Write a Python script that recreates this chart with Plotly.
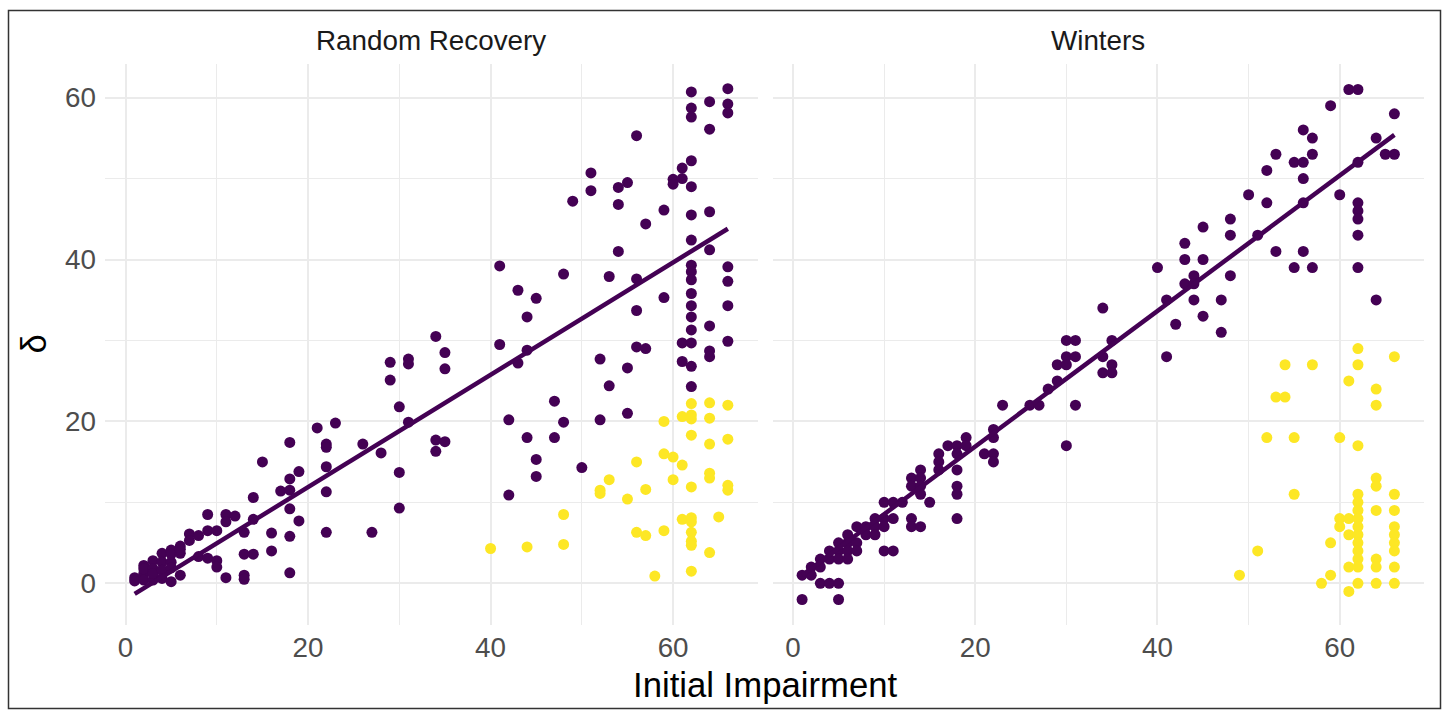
import plotly.graph_objects as go

# ---------------- data ----------------
# Random Recovery panel, purple group
rr_purple_x = [
    1, 1,
    2, 2, 2, 2,
    3, 3, 3, 3,
    4, 4, 4, 4,
    5, 5, 5, 5, 5,
    6, 6, 6, 6,
    7, 7,
    8, 8,
    9, 9, 9,
    10, 10, 10,
    11, 11, 11,
    12,
    13, 13, 13, 13,
    14, 14, 14,
    15,
    16, 16,
    17,
    18, 18, 18, 18, 18, 18,
    19, 19,
    21,
    22, 22, 22, 22, 22,
    23, 26, 27, 28,
    29, 29,
    30, 30, 30,
    31, 31, 31,
    34, 34, 34,
    35, 35, 35,
    41, 41,
    42, 42,
    43, 43,
    44, 44, 44,
    45, 45, 45,
    47, 47,
    48, 48,
    49, 50,
    51, 51,
    52, 52,
    53, 53,
    54, 54, 54,
    55, 55, 55,
    56, 56, 56, 56,
    57, 57,
    59, 59,
    60, 60,
    61, 61, 61, 61,
    62, 62, 62, 62, 62, 62, 62, 62, 62, 62, 62, 62, 62, 62, 62, 62, 62,
    64, 64, 64, 64, 64, 64, 64,
    66, 66, 66, 66, 66, 66, 66,
]
rr_purple_y = [
    0.7, 0.3,
    2.2, 1.2, 0.4, 1.8,
    2.8, 1.8, 0.4, 1.2,
    3.7, 2.6, 1.6, 0.6,
    4.1, 2.6, 1.9, 0.2, 3.6,
    4.6, 3.7, 1.0, 4.2,
    6.1, 5.3,
    5.9, 3.3,
    8.5, 6.5, 3.1,
    6.5, 2.8, 2.0,
    8.5, 7.6, 0.7,
    8.3,
    6.3, 3.6, 1.0, 0.5,
    10.6, 7.9, 3.6,
    15.0,
    6.2, 4.0,
    11.4,
    17.4, 12.9, 11.5, 9.2, 5.8, 1.3,
    13.8, 7.7,
    19.2,
    17.2, 16.8, 14.4, 11.3, 6.3,
    19.8, 17.2, 6.3, 16.1,
    27.3, 25.1,
    21.8, 13.7, 9.3,
    27.7, 27.1, 19.9,
    30.5, 17.7, 16.3,
    28.5, 26.5, 17.5,
    39.2, 29.5,
    20.2, 10.9,
    36.2, 27.2,
    32.9, 28.8, 18.0,
    35.2, 15.3, 13.2,
    22.5, 18.0,
    38.2, 19.9,
    47.2, 14.3,
    50.7, 48.5,
    27.7, 20.2,
    37.9, 24.4,
    48.9, 46.8, 41.0,
    49.5, 26.6, 21.0,
    55.3, 37.6, 33.7, 29.2,
    44.4, 29.0,
    46.1, 35.3,
    49.9, 49.3,
    51.3, 50.0, 29.7, 27.4,
    60.7, 58.7, 57.6, 52.2, 49.0, 45.5, 42.4, 39.3, 38.5, 37.5, 35.8, 34.3, 32.9, 31.3, 29.7, 26.8, 24.3,
    59.5, 56.1, 45.9, 41.2, 31.8, 28.7, 28.0,
    61.1, 59.2, 58.1, 39.1, 37.3, 34.3, 29.9,
]

# Random Recovery panel, yellow group
rr_yellow_x = [
    40, 44,
    48, 48,
    52, 52,
    53, 55,
    56, 56,
    57, 57,
    58,
    59, 59, 59,
    60, 60,
    61, 61, 61,
    62, 62, 62, 62, 62, 62, 62, 62, 62, 62, 62,
    64, 64, 64, 64, 64, 64,
    65,
    66, 66, 66, 66,
]
rr_yellow_y = [
    4.3, 4.5,
    8.5, 4.8,
    11.5, 11.1,
    12.8, 10.4,
    15.0, 6.3,
    11.6, 5.9,
    0.9,
    20.0, 16.0, 6.5,
    15.6, 12.8,
    20.6, 14.6, 7.9,
    22.2, 20.8, 20.3, 18.3, 11.9, 8.1, 7.6, 6.3, 5.2, 4.7, 1.5,
    22.3, 20.4, 17.2, 13.6, 13.0, 3.8,
    8.2,
    22.0, 17.8, 12.1, 11.5,
]

# Winters panel, purple group
win_purple_x = [
    1, 1,
    2, 2,
    3, 3, 3,
    4, 4, 4,
    5, 5, 5, 5, 5,
    6, 6, 6, 6,
    7, 7, 7,
    8, 8,
    9, 9, 9,
    10, 10, 10, 10,
    11, 11, 11,
    12,
    13, 13, 13, 13,
    14, 14, 14, 14, 14,
    15,
    16, 16, 16,
    17,
    18, 18, 18, 18, 18, 18,
    19, 19,
    21,
    22, 22, 22, 22,
    23, 26, 27, 28,
    29, 29,
    30, 30, 30, 30,
    31, 31, 31,
    34, 34, 34,
    35, 35, 35,
    40,
    41, 41,
    42,
    43, 43, 43,
    44, 44, 44,
    45, 45, 45,
    47, 47,
    48, 48, 48,
    50, 51,
    52, 52,
    53, 53,
    55, 55,
    56, 56, 56, 56, 56,
    57, 57, 57,
    59, 60, 61,
    62, 62, 62, 62, 62, 62, 62,
    64, 64,
    65,
    66, 66,
]
win_purple_y = [
    1, -2,
    2, 1,
    3, 2, 0,
    4, 3, 0,
    5, 4, 3, 0, -2,
    6, 5, 4, 3,
    7, 5, 4,
    7, 6,
    8, 7, 6,
    10, 8, 7, 4,
    10, 8, 4,
    10,
    13, 12, 8, 7,
    14, 13, 12, 11, 7,
    10,
    16, 15, 14,
    17,
    17, 16, 14, 12, 11, 8,
    18, 17,
    16,
    19, 18, 16, 15,
    22, 22, 22, 24,
    27, 25,
    30, 28, 27, 17,
    30, 28, 22,
    34, 28, 26,
    30, 27, 26,
    39,
    35, 28,
    32,
    42, 40, 37,
    38, 37, 35,
    44, 40, 33,
    35, 31,
    45, 43, 38,
    48, 43,
    51, 47,
    53, 41,
    52, 39,
    56, 52, 50, 47, 41,
    55, 53, 39,
    59, 48, 61,
    61, 52, 47, 46, 45, 43, 39,
    55, 35,
    53,
    58, 53,
]

# Winters panel, yellow group
win_yellow_x = [
    49, 51, 52, 53,
    54, 54,
    55, 55,
    57, 58,
    59, 59,
    60, 60, 60,
    61, 61, 61, 61, 61,
    62, 62, 62, 62, 62, 62, 62, 62, 62, 62, 62, 62, 62, 62,
    64, 64, 64, 64, 64, 64, 64, 64,
    66, 66, 66, 66, 66, 66, 66, 66, 66,
]
win_yellow_y = [
    1, 4, 18, 23,
    27, 23,
    18, 11,
    27, 0,
    5, 1,
    18, 8, 7,
    25, 8, 6, 2, -1,
    29, 27, 17, 11, 10, 9, 8, 7, 6, 5, 4, 3, 2, 0,
    24, 22, 13, 12, 9, 3, 2, 0,
    28, 11, 9, 7, 6, 5, 4, 2, 0,
]

# linear fits (purple group)
rr_fit_x = [1, 66]
rr_fit_y = [-1.3, 43.8]
win_fit_x = [1, 66]
win_fit_y = [1.0, 55.4]

panel_titles = ["Random Recovery", "Winters"]
x_title = "Initial Impairment"
y_title = "δ"
major_ticks = [0, 20, 40, 60]
minor_ticks = [10, 30, 50]

# ---------------- styling ----------------
PURPLE = "#440154"
YELLOW = "#FDE725"
GRID = "#EBEBEB"
FONT = "Liberation Sans, Arial, Helvetica, sans-serif"
W, H = 1448, 713
ML, MR, MT, MB = 105, 24, 64, 88
PW = W - ML - MR
PH = H - MT - MB

def px2x(px):
    return (px - ML) / PW

def py2y(py):
    return (H - MB - py) / PH

left_dom = [0, px2x(757.5)]
right_dom = [px2x(772.5), 1]

fig = go.Figure()
marker_size = 11

def add_panel(xs_p, ys_p, xs_y, ys_y, fx, fy, xa, ya):
    fig.add_trace(go.Scatter(x=xs_p, y=ys_p, mode="markers",
                             marker=dict(color=PURPLE, size=marker_size, line=dict(width=0)),
                             xaxis=xa, yaxis=ya, hoverinfo="x+y"))
    fig.add_trace(go.Scatter(x=xs_y, y=ys_y, mode="markers",
                             marker=dict(color=YELLOW, size=marker_size, line=dict(width=0)),
                             xaxis=xa, yaxis=ya, hoverinfo="x+y"))
    fig.add_trace(go.Scatter(x=fx, y=fy, mode="lines",
                             line=dict(color=PURPLE, width=4.5),
                             xaxis=xa, yaxis=ya, hoverinfo="skip"))

add_panel(rr_purple_x, rr_purple_y, rr_yellow_x, rr_yellow_y, rr_fit_x, rr_fit_y, "x", "y")
add_panel(win_purple_x, win_purple_y, win_yellow_x, win_yellow_y, win_fit_x, win_fit_y, "x2", "y2")

xcommon = dict(range=[-2.25, 69.25], tickvals=major_ticks, ticktext=[str(v) for v in major_ticks],
               showgrid=True, gridcolor=GRID, gridwidth=2.4, zeroline=False, showline=False,
               ticks="", tickfont=dict(size=27.8, color="#4D4D4D", family=FONT),
               minor=dict(tickvals=minor_ticks, showgrid=True, gridcolor=GRID, gridwidth=1.3, ticks=""),
               ticklabelstandoff=3, fixedrange=True)
ycommon = dict(range=[-5.15, 64.15], tickvals=major_ticks, ticktext=[str(v) for v in major_ticks],
               showgrid=True, gridcolor=GRID, gridwidth=2.4, zeroline=False, showline=False,
               ticks="", tickfont=dict(size=27.8, color="#4D4D4D", family=FONT),
               minor=dict(tickvals=minor_ticks, showgrid=True, gridcolor=GRID, gridwidth=1.3, ticks=""),
               ticklabelstandoff=8, fixedrange=True, domain=[0, 1])

fig.update_layout(
    width=W, height=H,
    margin=dict(l=ML, r=MR, t=MT, b=MB),
    paper_bgcolor="white", plot_bgcolor="white",
    showlegend=False,
    font=dict(family=FONT),
    xaxis=dict(domain=left_dom, anchor="y", **xcommon),
    xaxis2=dict(domain=right_dom, anchor="y2", **xcommon),
    yaxis=dict(anchor="x", **ycommon),
    yaxis2=dict(anchor="x2", showticklabels=False, **ycommon),
)

annotations = [
    dict(text=panel_titles[0], x=(left_dom[0] + left_dom[1]) / 2, y=py2y(41), xref="paper", yref="paper",
         showarrow=False, xanchor="center", yanchor="middle",
         font=dict(size=27.8, color="#1A1A1A", family=FONT)),
    dict(text=panel_titles[1], x=(right_dom[0] + right_dom[1]) / 2, y=py2y(41), xref="paper", yref="paper",
         showarrow=False, xanchor="center", yanchor="middle",
         font=dict(size=27.8, color="#1A1A1A", family=FONT)),
    dict(text=x_title, x=0.5, y=py2y(685), xref="paper", yref="paper",
         showarrow=False, xanchor="center", yanchor="middle",
         font=dict(size=34.7, color="black", family=FONT)),
    dict(text=y_title, x=px2x(33), y=0.5, xref="paper", yref="paper", textangle=-90,
         showarrow=False, xanchor="center", yanchor="middle",
         font=dict(size=34.7, color="black", family=FONT)),
]
fig.update_layout(annotations=annotations)

fig.add_shape(type="rect", xref="paper", yref="paper",
              x0=px2x(8.5), x1=px2x(1440.5), y0=py2y(708.5), y1=py2y(10.5),
              line=dict(color="#333333", width=1.5), fillcolor="rgba(0,0,0,0)", layer="above")

fig.write_html("out.html")
